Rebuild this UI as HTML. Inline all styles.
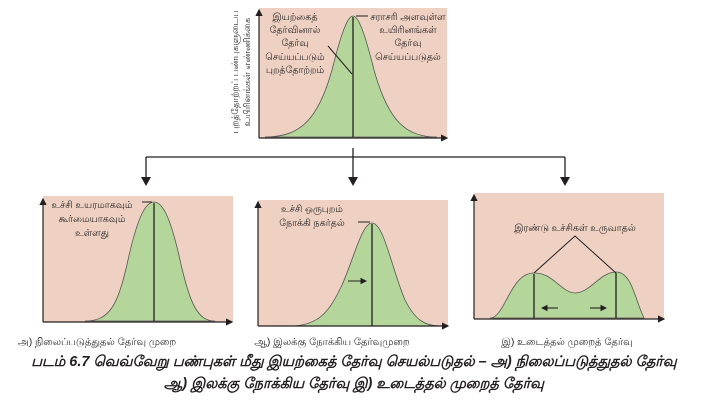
<!DOCTYPE html>
<html><head><meta charset="utf-8"><style>
html,body{margin:0;padding:0;background:#fff;width:704px;height:402px;overflow:hidden}
svg{display:block}
text{font-family:"Liberation Sans","DejaVu Sans",sans-serif;fill:#231f20}
</style></head><body>
<svg width="704" height="402" viewBox="0 0 704 402" xmlns="http://www.w3.org/2000/svg">
<defs>
<marker id="ar" markerWidth="6" markerHeight="6" refX="5" refY="3" orient="auto"><path d="M0,0 L6,3 L0,6z" fill="#231f20"/></marker>
</defs>
<rect x="259" y="8" width="188" height="130" fill="#eed1c3"/>
<path d="M265,137 C300,137 318,120 332,70 C342,30 348,16 353,16 C358,16 364,30 374,70 C388,120 405,137 437,137Z" fill="#b5d69a" stroke="#555" stroke-width="0.8"/>
<line x1="353" y1="17" x2="353" y2="137" stroke="#231f20" stroke-width="1.3"/>
<line x1="328" y1="46" x2="352" y2="74" stroke="#231f20" stroke-width="1"/>
<line x1="356" y1="16" x2="368" y2="16" stroke="#231f20" stroke-width="1"/>
<line x1="259" y1="138" x2="447" y2="138" stroke="#231f20" stroke-width="1.2" marker-end="url(#ar)"/>
<line x1="259" y1="138" x2="259" y2="10" stroke="#231f20" stroke-width="1.2" marker-end="url(#ar)"/>
<g font-size="9.5" text-anchor="middle">
<text x="295" y="20">இயற்கைத்</text><text x="295" y="33">தேர்வினால்</text><text x="295" y="46">தேர்வு</text><text x="295" y="60">செய்யப்படும்</text><text x="295" y="73">புறத்தோற்றம்</text>
<text x="408" y="20">சராசரி அளவுள்ள</text><text x="408" y="33">உயிரினங்கள்</text><text x="408" y="46">தேர்வு</text><text x="408" y="60">செய்யப்படுதல்</text>
</g>
<g font-size="9" text-anchor="middle">
<text transform="translate(238,72) rotate(-90)">புறத்தோற்றப் பண்புகளுடைய</text>
<text transform="translate(250,72) rotate(-90)">உயிரினங்கள் எண்ணிக்கை</text>
</g>
<line x1="353" y1="148" x2="353" y2="157" stroke="#231f20" stroke-width="1.3"/>
<line x1="146" y1="157" x2="565" y2="157" stroke="#231f20" stroke-width="1.3"/>
<g stroke="#231f20" stroke-width="1.3"><line x1="146" y1="157" x2="146" y2="180"/><line x1="353" y1="157" x2="353" y2="180"/><line x1="565" y1="157" x2="565" y2="180"/></g>
<g fill="#231f20"><path d="M141,177 L151,177 L146,186z"/><path d="M348,177 L358,177 L353,186z"/><path d="M560,177 L570,177 L565,186z"/></g>
<rect x="43" y="196" width="190" height="126" fill="#eed1c3"/>
<path d="M85,321 C110,321 118,305 128,260 C138,215 146,202 154,202 C162,202 170,215 180,260 C190,305 198,321 215,321Z" fill="#b5d69a" stroke="#555" stroke-width="0.8"/>
<line x1="154" y1="203" x2="154" y2="321" stroke="#231f20" stroke-width="1.3"/>
<line x1="142" y1="202" x2="152" y2="202" stroke="#231f20" stroke-width="1"/>
<line x1="43" y1="322" x2="232" y2="322" stroke="#231f20" stroke-width="1.2" marker-end="url(#ar)"/>
<line x1="43" y1="322" x2="43" y2="199" stroke="#231f20" stroke-width="1.2" marker-end="url(#ar)"/>
<g font-size="9.5" text-anchor="middle"><text x="92" y="208">உச்சி உயரமாகவும்</text><text x="92" y="222">கூர்மையாகவும்</text><text x="92" y="236">உள்ளது</text></g>
<text x="97" y="345" font-size="10" text-anchor="middle">அ) நிலைப்படுத்துதல் தேர்வு முறை</text>
<rect x="258" y="200" width="190" height="126" fill="#eed1c3"/>
<path d="M290,326 C320,326 330,310 342,285 C354,258 362,223 372,223 C384,223 392,270 405,300 C415,320 425,326 440,326Z" fill="#b5d69a" stroke="#555" stroke-width="0.8"/>
<line x1="372" y1="224" x2="372" y2="326" stroke="#231f20" stroke-width="1.3"/>
<line x1="358" y1="222" x2="370" y2="222" stroke="#231f20" stroke-width="1"/>
<line x1="348" y1="281" x2="366" y2="281" stroke="#231f20" stroke-width="1.1" marker-end="url(#ar)"/>
<line x1="258" y1="326" x2="448" y2="326" stroke="#231f20" stroke-width="1.2" marker-end="url(#ar)"/>
<line x1="258" y1="326" x2="258" y2="202" stroke="#231f20" stroke-width="1.2" marker-end="url(#ar)"/>
<g font-size="9.5" text-anchor="middle"><text x="312" y="212">உச்சி ஒருபுறம்</text><text x="312" y="226">நோக்கி நகர்தல்</text></g>
<text x="332" y="345" font-size="10" text-anchor="middle">ஆ) இலக்கு நோக்கிய தேர்வுமுறை</text>
<rect x="474" y="193" width="190" height="126" fill="#eed1c3"/>
<path d="M490,318 C505,318 510,274 533,273 C553,272 560,292 575,293 C590,293 600,272 616,272 C632,272 635,300 644,318Z" fill="#b5d69a" stroke="#555" stroke-width="0.8"/>
<line x1="534" y1="274" x2="534" y2="318" stroke="#231f20" stroke-width="1.3"/>
<line x1="616" y1="273" x2="616" y2="318" stroke="#231f20" stroke-width="1.3"/>
<path d="M534,273 L575,236 L616,273" fill="none" stroke="#231f20" stroke-width="1"/>
<line x1="558" y1="308" x2="542" y2="308" stroke="#231f20" stroke-width="1.1" marker-end="url(#ar)"/>
<line x1="590" y1="308" x2="606" y2="308" stroke="#231f20" stroke-width="1.1" marker-end="url(#ar)"/>
<line x1="474" y1="319" x2="664" y2="319" stroke="#231f20" stroke-width="1.2" marker-end="url(#ar)"/>
<line x1="474" y1="319" x2="474" y2="195" stroke="#231f20" stroke-width="1.2" marker-end="url(#ar)"/>
<text x="575" y="231" font-size="9.5" text-anchor="middle">இரண்டு உச்சிகள் உருவாதல்</text>
<text x="567" y="345" font-size="10" text-anchor="middle">இ) உடைத்தல் முறைத் தேர்வு</text>
<g font-size="14.5" font-weight="bold" font-style="italic" text-anchor="middle">
<text x="354" y="366">படம் 6.7 வெவ்வேறு பண்புகள் மீது இயற்கைத் தேர்வு செயல்படுதல் – அ) நிலைப்படுத்துதல் தேர்வு</text>
<text x="354" y="388">ஆ) இலக்கு நோக்கிய தேர்வு இ) உடைத்தல் முறைத் தேர்வு</text>
</g>
</svg>
</body></html>
